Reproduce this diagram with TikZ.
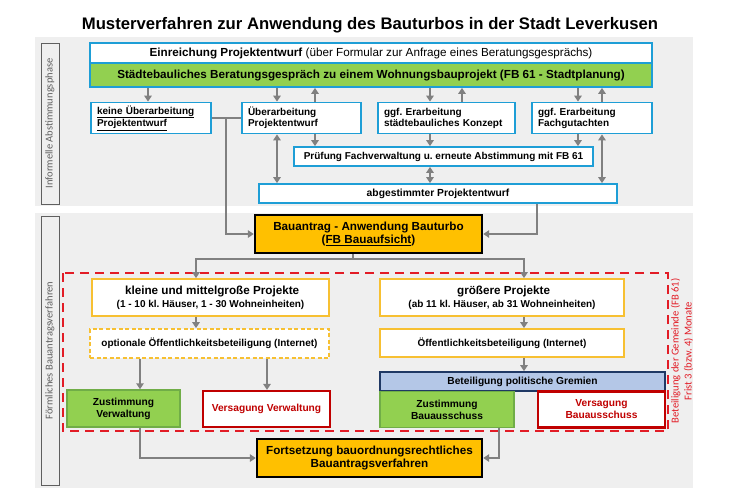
\documentclass[tikz,border=0pt]{standalone}
\usepackage{fontspec}
\setmainfont{Liberation Sans}
\newfontfamily\calfont{Carlito}
\usetikzlibrary{arrows.meta}
\definecolor{cyanb}{RGB}{30,158,214}
\definecolor{greenf}{RGB}{146,208,80}
\definecolor{greenb}{RGB}{112,173,71}
\definecolor{orangef}{RGB}{255,192,0}
\definecolor{yellowb}{RGB}{247,192,50}
\definecolor{bluef}{RGB}{180,199,231}
\definecolor{navyb}{RGB}{31,56,100}
\definecolor{darkred}{RGB}{192,0,0}
\definecolor{reddash}{RGB}{226,28,38}
\definecolor{arrowgray}{RGB}{128,128,128}
\definecolor{panelbg}{RGB}{239,239,239}
\definecolor{lblgray}{RGB}{95,95,95}
\newcommand\fsz[2]{\fontsize{#1}{#2}\selectfont}
\frenchspacing
\begin{document}
\begin{tikzpicture}[x=1pt,y=-1pt,
  box/.style={draw, inner sep=0pt, align=center},
  cbox/.style={box, draw=cyanb, line width=1.8pt, fill=white},
  ybox/.style={box, draw=yellowb, line width=1.8pt, fill=white},
  obox/.style={box, draw=black, line width=2.4pt, fill=orangef, font=\bfseries\fsz{11.7}{13.8}},
  gbox/.style={box, draw=greenb, line width=1.5pt, fill=greenf, font=\bfseries\fsz{10.2}{12}},
  rbox/.style={box, draw=darkred, line width=2.2pt, fill=white, text=darkred, font=\bfseries\fsz{10.2}{12}},
  lbl/.style={draw=lblgray, line width=0.8pt, inner sep=0pt, rotate=90, text=lblgray, font=\calfont\fsz{10.5}{12}},
  arr/.style={draw=arrowgray, line width=2pt, -{Triangle[width=7.5pt,length=6pt]}},
  darr/.style={draw=arrowgray, line width=2pt, {Triangle[width=7.5pt,length=6pt]}-{Triangle[width=7.5pt,length=6pt]}},
  ln/.style={draw=arrowgray, line width=2pt}]
\useasboundingbox (0,0) rectangle (740,493);
\fill[white] (0,0) rectangle (740,493);
% title
\node[font=\bfseries\fsz{16.7}{19}] (title) at (370,25) {Musterverfahren zur Anwendung des Bauturbos in der Stadt Leverkusen};
% panels
\fill[panelbg] (35,37) rectangle (693,206);
\fill[panelbg] (35,213) rectangle (693,488);
\node[lbl, minimum width=161pt, minimum height=18pt] (lblA) at (50,123.5) {Informelle Abstimmungsphase};
\node[lbl, minimum width=269pt, minimum height=18pt] (lblB) at (50,350.5) {Förmliches Bauantragsverfahren};
% red dashed frame
\draw[reddash, line width=2.8pt, dash pattern=on 9pt off 6pt] (63,273) rectangle (668,431);
\node[rotate=90, text=reddash, font=\calfont\fsz{10.6}{13}, align=center] (redlbl) at (682,351) {Beteiligung der Gemeinde (FB 61)\\Frist 3 (bzw. 4) Monate};
% top boxes
\node[cbox, minimum width=562pt, minimum height=20pt, font=\fsz{11.7}{13}] (einr) at (371,53) {{\bfseries Einreichung Projektentwurf} (über Formular zur Anfrage eines Beratungsgesprächs)};
\node[cbox, fill=greenf, minimum width=562pt, minimum height=24pt, font=\bfseries\fsz{11.7}{13}] (green) at (371,75) {Städtebauliches Beratungsgespräch zu einem Wohnungsbauprojekt (FB 61 - Stadtplanung)};
\node[cbox, minimum width=120pt, minimum height=31pt, text width=108pt, inner xsep=6pt, align=left, font=\bfseries\fsz{10}{11}] (keine) at (151,118) {\underline{keine Überarbeitung}\\\underline{Projektentwurf}};
\node[cbox, minimum width=119pt, minimum height=31pt, text width=107pt, inner xsep=6pt, align=left, font=\bfseries\fsz{10}{11}] (ueber) at (301.5,118) {Überarbeitung\\Projektentwurf};
\node[cbox, minimum width=137pt, minimum height=31pt, text width=125pt, inner xsep=6pt, align=left, font=\bfseries\fsz{10}{11}] (konzept) at (446.5,118) {ggf. Erarbeitung\\städtebauliches Konzept};
\node[cbox, minimum width=120pt, minimum height=31pt, text width=108pt, inner xsep=6pt, align=left, font=\bfseries\fsz{10}{11}] (fach) at (592,118) {ggf. Erarbeitung\\Fachgutachten};
\node[cbox, minimum width=299pt, minimum height=19pt, font=\bfseries\fsz{10}{11}] (pruef) at (443.5,156.5) {Prüfung Fachverwaltung u. erneute Abstimmung mit FB 61};
\node[cbox, minimum width=358pt, minimum height=19pt, font=\bfseries\fsz{10.3}{11}] (abg) at (438,193.5) {abgestimmter Projektentwurf};
% Bauantrag
\node[obox, minimum width=227pt, minimum height=38pt] (bauantrag) at (368.5,234) {Bauantrag - Anwendung Bauturbo\\(\underline{FB Bauaufsicht})};
% project size
\node[ybox, minimum width=237pt, minimum height=37pt] (kleine) at (210.5,297.5) {{\bfseries\fsz{11.7}{13.5} kleine und mittelgroße Projekte}\\[1pt]{\bfseries\fsz{10}{11}(1 - 10 kl. Häuser, 1 - 30 Wohneinheiten)}};
\node[ybox, minimum width=244pt, minimum height=37pt] (groesser) at (502,297.5) {{\bfseries\fsz{11.7}{13.5} größere Projekte}\\[1pt]{\bfseries\fsz{10}{11}(ab 11 kl. Häuser, ab 31 Wohneinheiten)}};
\node[ybox, dashed, dash pattern=on 4pt off 2.5pt, minimum width=239pt, minimum height=29pt, font=\bfseries\fsz{10}{11}] (optional) at (209.5,343.5) {optionale Öffentlichkeitsbeteiligung (Internet)};
\node[ybox, minimum width=244pt, minimum height=28pt, font=\bfseries\fsz{10}{11}] (oeff) at (502,343) {Öffentlichkeitsbeteiligung (Internet)};
\node[box, draw=navyb, line width=1.8pt, fill=bluef, minimum width=285pt, minimum height=19pt, font=\bfseries\fsz{10.2}{11}] (polit) at (522.5,381.5) {Beteiligung politische Gremien};
\node[gbox, minimum width=134pt, minimum height=36pt] (zbau) at (447,409.5) {Zustimmung\\Bauausschuss};
\node[rbox, minimum width=127pt, minimum height=36pt] (vbau) at (601.5,409.5) {Versagung\\Bauausschuss};
\node[gbox, minimum width=113pt, minimum height=37pt] (zverw) at (123.5,408.5) {Zustimmung\\Verwaltung};
\node[rbox, minimum width=127pt, minimum height=36pt] (vverw) at (266.5,409) {Versagung Verwaltung};
\node[obox, minimum width=225pt, minimum height=38pt] (fort) at (369.5,458) {Fortsetzung bauordnungsrechtliches\\Bauantragsverfahren};
% x positions of connectors
\coordinate (xa) at (148,0);
\coordinate (xb) at (277,0);
\coordinate (xc) at (315,0);
\coordinate (xd) at (430,0);
\coordinate (xe) at (462,0);
\coordinate (xf) at (578,0);
\coordinate (xg) at (602,0);
\coordinate (xh) at (226,0);
\coordinate (xi) at (537,0);
\coordinate (xj) at (196,0);
\coordinate (xk) at (524,0);
\coordinate (xl) at (140,0);
\coordinate (xm) at (267,0);
\coordinate (xn) at (499,0);
\coordinate (split) at (353,259);
% connectors
\draw[arr] (green.south -| xa) -- (keine.north -| xa);
\draw[arr] (green.south -| xb) -- (ueber.north -| xb);
\draw[arr] (ueber.north -| xc) -- (green.south -| xc);
\draw[arr] (green.south -| xd) -- (konzept.north -| xd);
\draw[arr] (konzept.north -| xe) -- (green.south -| xe);
\draw[arr] (green.south -| xf) -- (fach.north -| xf);
\draw[arr] (fach.north -| xg) -- (green.south -| xg);
\draw[arr] (ueber.south -| xc) -- (pruef.north -| xc);
\draw[arr] (konzept.south -| xd) -- (pruef.north -| xd);
\draw[arr] (fach.south -| xf) -- (pruef.north -| xf);
\draw[darr] (ueber.south -| xb) -- (abg.north -| xb);
\draw[darr] (pruef.south -| xd) -- (abg.north -| xd);
\draw[darr] (fach.south -| xg) -- (abg.north -| xg);
\draw[ln] (keine.east) -- (ueber.west);
\draw[arr] (keine.east -| xh) |- (bauantrag.west);
\draw[arr] (abg.south -| xi) |- (bauantrag.east);
\draw[ln] (bauantrag.south -| split) -- (split);
\draw[arr] (split) -| (kleine.north -| xj);
\draw[arr] (split) -| (groesser.north -| xk);
\draw[arr] (kleine.south -| xj) -- (optional.north -| xj);
\draw[arr] (groesser.south -| xk) -- (oeff.north -| xk);
\draw[arr] (oeff.south -| xk) -- (polit.north -| xk);
\draw[arr] (optional.south -| xl) -- (zverw.north -| xl);
\draw[arr] (optional.south -| xm) -- (vverw.north -| xm);
\draw[arr] (zverw.south -| xl) |- (fort.west);
\draw[arr] (zbau.south -| xn) |- (fort.east);
\end{tikzpicture}
\end{document}
